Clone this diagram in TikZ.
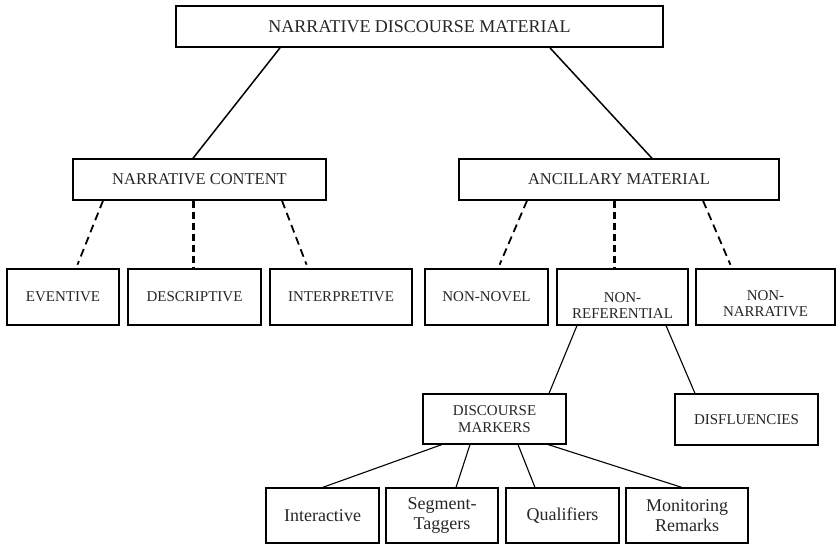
\documentclass[tikz,border=0pt]{standalone}
\usepackage{fontspec}
\setmainfont{Liberation Serif}
\usetikzlibrary{positioning}

\begin{document}
\begin{tikzpicture}[
  x=1pt, y=-1pt,
  box/.style={draw, line width=1.1pt, inner sep=2pt, align=center, text=black!85},
  topbox/.style={box, line width=1.8pt, minimum width=487pt, minimum height=41pt, font=\fontsize{18}{21}\selectfont},
  midbox/.style={box, line width=1.4pt, minimum height=41pt, font=\fontsize{16.5}{20}\selectfont},
  capbox/.style={box, minimum height=56pt, font=\fontsize{15}{16.5}\selectfont},
  lowbox/.style={box, minimum height=55pt, font=\fontsize{18}{19.5}\selectfont},
  solidline/.style={line width=1.5pt},
  thinline/.style={line width=1.1pt},
  dashline/.style={line width=1.8pt, dash pattern=on 8pt off 5pt, shorten >=4pt},
  thickdash/.style={line width=3pt, dash pattern=on 7pt off 4pt}
]
  \useasboundingbox (0,0) rectangle (836,545);

  % Top
  \node[topbox] (ndm) at (419.5, 26.5) {NARRATIVE DISCOURSE MATERIAL};

  % Second level
  \node[midbox, minimum width=253pt] (ncontent) at (199.5, 179.5) {NARRATIVE CONTENT};
  \node[midbox, minimum width=320pt] (ancillary) at (619, 179.5) {ANCILLARY MATERIAL};

  % Narrative content types
  \node[capbox, minimum width=112pt] (eventive) at (63, 297) {EVENTIVE};
  \node[capbox, minimum width=133pt] (descriptive) at (194.5, 297) {DESCRIPTIVE};
  \node[capbox, minimum width=142pt] (interpretive) at (341, 297) {INTERPRETIVE};

  % Ancillary material types
  \node[capbox, minimum width=123pt] (nonnovel) at (486.5, 297) {NON-NOVEL};
  \node[capbox, minimum width=131pt, text height=44pt] (nonref) at (622.5, 297) {NON-\\REFERENTIAL};
  \node[capbox, minimum width=139pt, text height=40pt] (nonnarr) at (765.5, 297) {NON-\\NARRATIVE};

  % Non-referential
  \node[capbox, minimum width=143pt, minimum height=50pt] (dmarkers) at (494.5, 419) {DISCOURSE\\MARKERS};
  \node[capbox, minimum width=143pt, minimum height=51pt] (disfl) at (746.5, 419.5) {DISFLUENCIES};

  % Discourse markers
  \node[lowbox, minimum width=113pt] (interactive) at (322.5, 515.5) {Interactive};
  \node[lowbox, minimum width=112pt] (segment) at (442, 515.5) {Segment-\\Taggers};
  \node[lowbox, minimum width=113pt] (qualifiers) at (562.5, 515.5) {Qualifiers};
  \node[lowbox, minimum width=122pt] (monitoring) at (687, 515.5) {Monitoring\\Remarks};

  % Connectors
  \draw[solidline] ([xshift=-139.5pt]ndm.south) -- ([xshift=-6.5pt]ncontent.north);
  \draw[solidline] ([xshift=130.5pt]ndm.south) -- ([xshift=33pt]ancillary.north);

  \draw[dashline] ([xshift=-96.5pt]ncontent.south) -- ([xshift=13pt]eventive.north);
  \draw[thickdash] ([xshift=-6.5pt]ncontent.south) -- ([xshift=-1.5pt]descriptive.north);
  \draw[dashline] ([xshift=82.5pt]ncontent.south) -- ([xshift=-33pt]interpretive.north);

  \draw[dashline] ([xshift=-92pt]ancillary.south) -- ([xshift=11.5pt]nonnovel.north);
  \draw[thickdash] ([xshift=-5pt]ancillary.south) -- ([xshift=-8.5pt]nonref.north);
  \draw[dashline] ([xshift=84pt]ancillary.south) -- ([xshift=-33.5pt]nonnarr.north);

  \draw[thinline] ([xshift=-45.5pt]nonref.south) -- ([xshift=54.5pt]dmarkers.north);
  \draw[thinline] ([xshift=43.5pt]nonref.south) -- ([xshift=-51.5pt]disfl.north);

  \draw[thinline] ([xshift=-52.5pt]dmarkers.south) -- (interactive.north);
  \draw[thinline] ([xshift=-24.5pt]dmarkers.south) -- ([xshift=14pt]segment.north);
  \draw[thinline] ([xshift=23.5pt]dmarkers.south) -- ([xshift=-27.5pt]qualifiers.north);
  \draw[thinline] ([xshift=53.5pt]dmarkers.south) -- ([xshift=-5pt]monitoring.north);
\end{tikzpicture}
\end{document}
